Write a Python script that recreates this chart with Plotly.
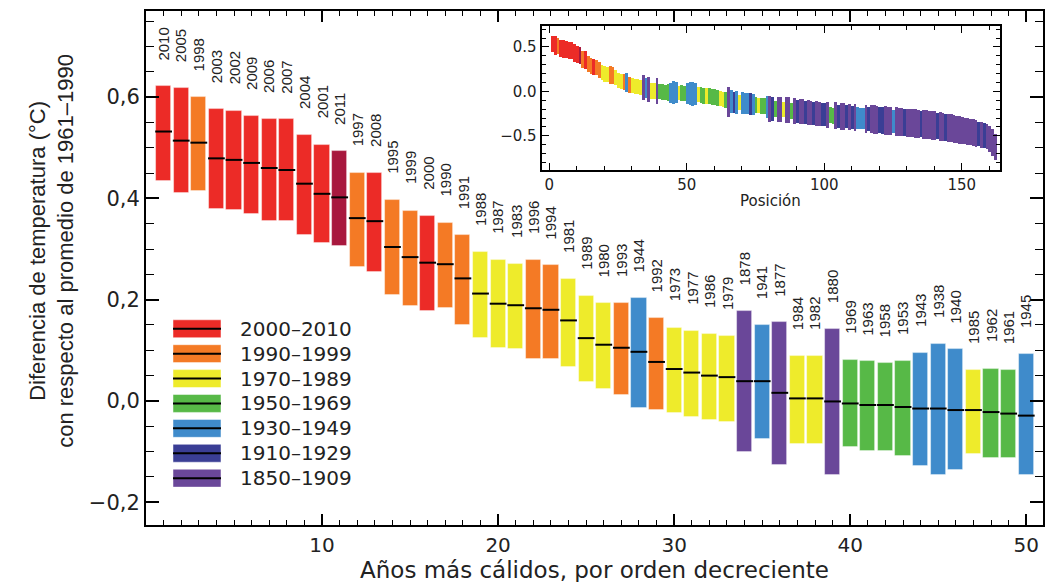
import plotly.graph_objects as go

# ---- datos del grafico principal (50 años mas calidos) ----
years = ["2010", "2005", "1998", "2003", "2002", "2009", "2006", "2007", "2004", "2001",
         "2011", "1997", "2008", "1995", "1999", "2000", "1990", "1991", "1988", "1987",
         "1983", "1996", "1994", "1981", "1989", "1980", "1993", "1944", "1992", "1973",
         "1977", "1986", "1979", "1878", "1941", "1877", "1984", "1982", "1880", "1969",
         "1963", "1958", "1953", "1943", "1938", "1940", "1985", "1962", "1961", "1945"]
center = [0.532, 0.514, 0.510, 0.479, 0.476, 0.470, 0.460, 0.456, 0.429, 0.409,
          0.402, 0.361, 0.355, 0.304, 0.284, 0.273, 0.270, 0.242, 0.212, 0.192,
          0.189, 0.183, 0.180, 0.159, 0.124, 0.111, 0.105, 0.097, 0.077, 0.063,
          0.056, 0.050, 0.047, 0.039, 0.039, 0.016, 0.005, 0.005, -0.001, -0.005,
          -0.008, -0.008, -0.012, -0.015, -0.015, -0.018, -0.018, -0.022, -0.025, -0.029]
upper = [0.621, 0.617, 0.600, 0.576, 0.573, 0.563, 0.556, 0.556, 0.525, 0.506,
         0.493, 0.451, 0.451, 0.397, 0.376, 0.366, 0.352, 0.328, 0.294, 0.278,
         0.271, 0.278, 0.268, 0.241, 0.207, 0.193, 0.193, 0.203, 0.163, 0.145,
         0.139, 0.132, 0.129, 0.177, 0.149, 0.155, 0.088, 0.088, 0.142, 0.081,
         0.078, 0.074, 0.078, 0.095, 0.112, 0.102, 0.061, 0.064, 0.061, 0.092]
lower = [0.435, 0.410, 0.414, 0.380, 0.377, 0.370, 0.356, 0.356, 0.328, 0.312,
         0.305, 0.265, 0.254, 0.210, 0.187, 0.177, 0.183, 0.149, 0.125, 0.105,
         0.102, 0.082, 0.082, 0.068, 0.038, 0.024, 0.011, -0.014, -0.017, -0.024,
         -0.031, -0.038, -0.041, -0.101, -0.075, -0.126, -0.085, -0.085, -0.146, -0.091,
         -0.098, -0.098, -0.109, -0.129, -0.146, -0.136, -0.105, -0.112, -0.112, -0.146]

# ---- datos del recuadro: posiciones 51-162 (las 1-50 son las de arriba) ----
# R=2000-2010 M=2011 O=1990-99 Y=1970-89 G=1950-69 B=1930-49 D=1910-29 P=1850-1909
inset_group = ["B", "B", "B", "Y", "G", "G", "Y", "G", "G", "G",
               "G", "Y", "Y", "G", "P", "B", "D", "B", "Y", "B",
               "B", "B", "D", "B", "G", "Y", "G", "G", "B", "P",
               "D", "G", "P", "P", "Y", "P", "P", "G", "P", "D",
               "P", "P", "D", "P", "P", "D", "P", "P", "D", "D",
               "P", "G", "G", "P", "D", "P", "P", "D", "P", "D",
               "P", "B", "B", "B", "P", "D", "P", "P", "P", "D",
               "D", "P", "P", "P", "B", "P", "P", "P", "D", "P",
               "P", "P", "P", "P", "D", "P", "P", "P", "P", "P",
               "D", "P", "P", "D", "P", "P", "P", "P", "P", "P",
               "P", "P", "P", "P", "P", "D", "P", "D", "P", "P",
               "P", "P"]
inset_mid = [-0.030, -0.033, -0.036, -0.040, -0.045, -0.050, -0.055, -0.060, -0.066, -0.072,
             -0.080, -0.086, -0.092, -0.100, -0.120, -0.122, -0.125, -0.128, -0.131, -0.135,
             -0.138, -0.142, -0.146, -0.150, -0.155, -0.160, -0.165, -0.170, -0.180, -0.200,
             -0.202, -0.204, -0.206, -0.208, -0.210, -0.213, -0.216, -0.219, -0.222, -0.226,
             -0.230, -0.234, -0.238, -0.242, -0.246, -0.250, -0.254, -0.258, -0.262, -0.266,
             -0.270, -0.272, -0.275, -0.278, -0.281, -0.284, -0.287, -0.290, -0.293, -0.296,
             -0.299, -0.302, -0.305, -0.308, -0.311, -0.314, -0.317, -0.320, -0.323, -0.326,
             -0.329, -0.332, -0.335, -0.338, -0.341, -0.344, -0.347, -0.350, -0.353, -0.356,
             -0.359, -0.362, -0.365, -0.368, -0.371, -0.374, -0.377, -0.381, -0.385, -0.389,
             -0.393, -0.398, -0.403, -0.408, -0.413, -0.418, -0.424, -0.430, -0.436, -0.442,
             -0.448, -0.455, -0.462, -0.469, -0.476, -0.483, -0.490, -0.497, -0.510, -0.540,
             -0.580, -0.630]
inset_err = [0.130, 0.130, 0.125, 0.085, 0.090, 0.090, 0.085, 0.090, 0.090, 0.090,
             0.090, 0.085, 0.085, 0.090, 0.170, 0.130, 0.120, 0.130, 0.085, 0.120,
             0.120, 0.120, 0.120, 0.120, 0.090, 0.085, 0.090, 0.090, 0.120, 0.145,
             0.130, 0.090, 0.145, 0.145, 0.085, 0.145, 0.145, 0.090, 0.145, 0.130,
             0.140, 0.140, 0.130, 0.140, 0.140, 0.130, 0.140, 0.140, 0.130, 0.130,
             0.145, 0.090, 0.090, 0.150, 0.130, 0.150, 0.150, 0.130, 0.150, 0.130,
             0.150, 0.120, 0.120, 0.120, 0.160, 0.140, 0.160, 0.160, 0.160, 0.150,
             0.150, 0.160, 0.160, 0.160, 0.130, 0.160, 0.160, 0.160, 0.150, 0.160,
             0.160, 0.160, 0.160, 0.160, 0.150, 0.160, 0.160, 0.160, 0.160, 0.160,
             0.150, 0.160, 0.155, 0.150, 0.155, 0.155, 0.155, 0.155, 0.155, 0.155,
             0.150, 0.150, 0.150, 0.150, 0.150, 0.140, 0.145, 0.140, 0.145, 0.150,
             0.150, 0.150]

legend_labels = ["2000–2010", "1990–1999", "1970–1989", "1950–1969",
                 "1930–1949", "1910–1929", "1850–1909"]
legend_groups = ["R", "O", "Y", "G", "B", "D", "P"]

COLORS = {"R": "#EC2B27", "M": "#A8183E", "O": "#F47A25", "Y": "#EEEB2B",
          "G": "#57B947", "B": "#3F8BCB", "D": "#3A3E95", "P": "#6A4799"}
TXT = "#222222"
WIDE = "DejaVu Sans"
ARIAL = "Liberation Sans, Arial"


def group_of(year):
    y = int(year)
    if y == 2011:
        return "M"
    if y >= 2000:
        return "R"
    if y >= 1990:
        return "O"
    if y >= 1970:
        return "Y"
    if y >= 1950:
        return "G"
    if y >= 1930:
        return "B"
    if y >= 1910:
        return "D"
    return "P"


pos = list(range(1, len(years) + 1))
main_groups = [group_of(y) for y in years]

fig = go.Figure()

# barras del grafico principal (de lower a upper)
fig.add_trace(go.Bar(
    x=pos, y=[u - l for u, l in zip(upper, lower)], base=lower, width=0.86,
    marker=dict(color=[COLORS[g] for g in main_groups],
                line=dict(color="rgba(255,255,255,0.5)", width=0.8)),
    hoverinfo="skip", showlegend=False))
# linea negra del valor central
fig.add_trace(go.Scatter(
    x=pos, y=center, mode="markers",
    marker=dict(symbol="line-ew", size=12, line=dict(width=2, color="black")),
    hoverinfo="skip", showlegend=False))

# recuadro con todos los años
in_groups = main_groups + inset_group
in_lo = lower + [m - e for m, e in zip(inset_mid, inset_err)]
in_hi = upper + [m + e for m, e in zip(inset_mid, inset_err)]
in_pos = list(range(1, len(in_groups) + 1))
fig.add_trace(go.Bar(
    x=in_pos, y=[h - l for h, l in zip(in_hi, in_lo)], base=in_lo, width=1.0,
    marker=dict(color=[COLORS[g] for g in in_groups], line=dict(width=0)),
    xaxis="x2", yaxis="y2", hoverinfo="skip", showlegend=False))

ann = []
# etiquetas de año encima de cada barra
for i, yr in enumerate(years):
    ann.append(dict(x=pos[i], y=upper[i], xref="x", yref="y", text=yr, textangle=-90,
                    showarrow=False, xanchor="center", yanchor="bottom", yshift=24,
                    font=dict(family=ARIAL, size=15, color=TXT)))

# leyenda dibujada a mano
shapes = []
for k, (lab, g) in enumerate(zip(legend_labels, legend_groups)):
    yc = 0.3818 - k * 0.04845
    shapes.append(dict(type="rect", xref="paper", yref="paper", x0=0.0301, x1=0.0836,
                       y0=yc - 0.0174, y1=yc + 0.0174, fillcolor=COLORS[g],
                       line=dict(color="rgba(255,255,255,0.6)", width=0.8)))
    shapes.append(dict(type="line", xref="paper", yref="paper", x0=0.0301, x1=0.0836,
                       y0=yc, y1=yc, line=dict(color="black", width=2)))
    ann.append(dict(x=0.1026, y=yc, xref="paper", yref="paper", text=lab, showarrow=False,
                    xanchor="left", yanchor="middle",
                    font=dict(family=WIDE, size=20, color=TXT)))

# titulos de ejes
ann.append(dict(x=0.5, y=-0.0885, xref="paper", yref="paper", showarrow=False,
                text="Años más cálidos, por orden decreciente", xanchor="center",
                yanchor="middle", font=dict(family=WIDE, size=23, color=TXT)))
ann.append(dict(x=-0.105, y=0.533, xref="paper", yref="paper", showarrow=False,
                text="Diferencia de temperatura (°C)<br>con respecto al promedio de 1961–1990",
                textangle=-90, xanchor="center", yanchor="middle",
                font=dict(family=ARIAL, size=22, color=TXT)))
ann.append(dict(x=0.6966, y=0.630, xref="paper", yref="paper", showarrow=False,
                text="Posición", xanchor="center", yanchor="middle",
                font=dict(family=WIDE, size=15, color=TXT)))

axis_common = dict(showline=True, linecolor="black", linewidth=2, mirror="allticks",
                   ticks="inside", tickcolor="black", showgrid=False, zeroline=False)

# la pagina tiene 8 px de margen en el body: la figura se desplaza y se compensa
fig.update_layout(
    width=1043, height=574,
    margin=dict(l=138, r=8, t=1, b=57),
    paper_bgcolor="white", plot_bgcolor="white",
    xaxis=dict(domain=[0, 1], range=[0, 50.95], tickvals=[10, 20, 30, 40, 50],
               ticklen=11, tickwidth=1.5, ticklabelstandoff=1,
               minor=dict(dtick=1, tick0=0, ticks="inside", ticklen=5, tickwidth=1.2,
                          tickcolor="black"),
               tickfont=dict(family=WIDE, size=20, color=TXT), **axis_common),
    yaxis=dict(domain=[0, 1], range=[-0.245, 0.77],
               tickvals=[-0.2, 0.0, 0.2, 0.4, 0.6],
               ticktext=["−0,2", "0,0", "0,2", "0,4", "0,6"],
               ticklen=13, tickwidth=1.5,
               minor=dict(dtick=0.05, tick0=0, ticks="inside", ticklen=8, tickwidth=1.2,
                          tickcolor="black"),
               tickfont=dict(family=WIDE, size=21, color=TXT), **axis_common),
    xaxis2=dict(domain=[0.4411, 0.9521], anchor="y2", range=[-2.8, 163.9],
                tickvals=[0, 50, 100, 150], ticklen=7, tickwidth=1.2,
                minor=dict(dtick=10, tick0=0, ticks="inside", ticklen=4, tickwidth=1,
                           tickcolor="black"),
                tickfont=dict(family=WIDE, size=15, color=TXT), **axis_common),
    yaxis2=dict(domain=[0.6913, 0.9703], anchor="x2", range=[-0.881, 0.732],
                tickvals=[-0.5, 0.0, 0.5], ticktext=["−0.5", "0.0", "0.5"],
                ticklen=7, tickwidth=1.2,
                minor=dict(dtick=0.1, tick0=0, ticks="inside", ticklen=4, tickwidth=1,
                           tickcolor="black"),
                tickfont=dict(family=WIDE, size=15, color=TXT), **axis_common),
    annotations=ann, shapes=shapes,
    bargap=0, showlegend=False,
)

fig.write_html("out.html")
